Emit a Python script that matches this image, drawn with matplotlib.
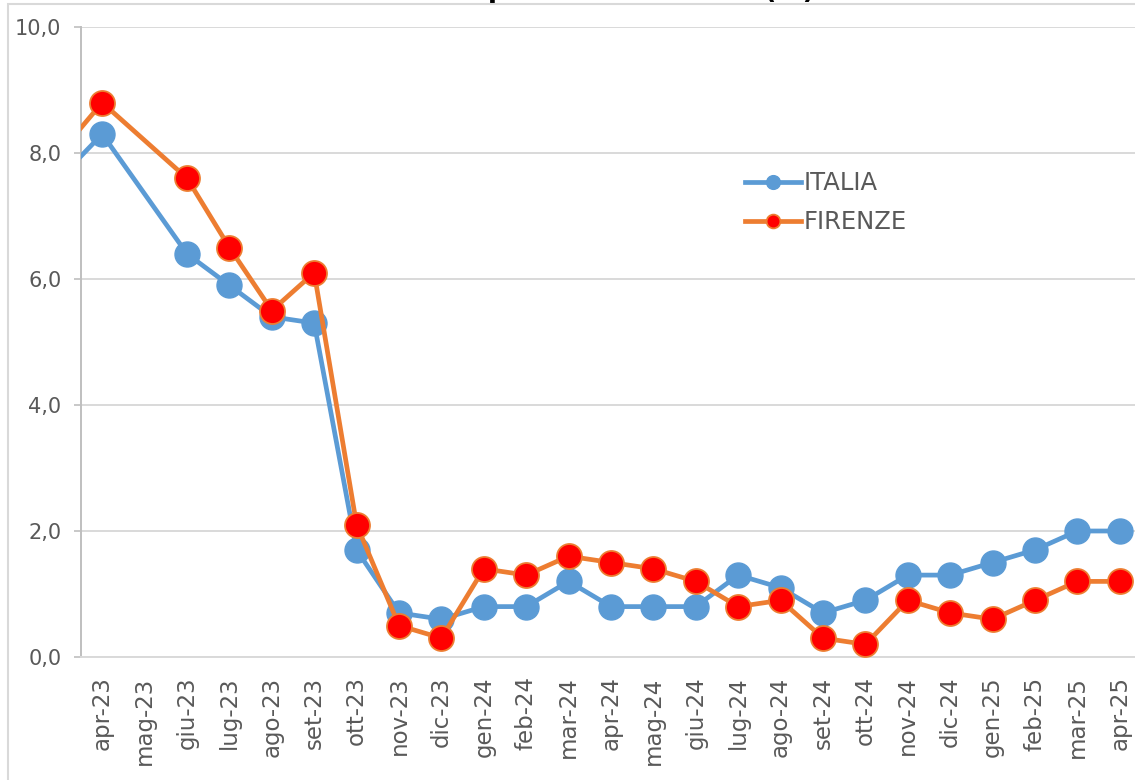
import matplotlib.pyplot as plt
import numpy as np
from matplotlib.patches import Rectangle
from matplotlib.ticker import FuncFormatter

# monthly values (%), mar-23 sits just outside the visible range, mag-23 is missing
months = ['mar-23', 'apr-23', 'mag-23', 'giu-23', 'lug-23', 'ago-23', 'set-23', 'ott-23',
          'nov-23', 'dic-23', 'gen-24', 'feb-24', 'mar-24', 'apr-24', 'mag-24', 'giu-24',
          'lug-24', 'ago-24', 'set-24', 'ott-24', 'nov-24', 'dic-24', 'gen-25', 'feb-25',
          'mar-25', 'apr-25']
italia = [7.6, 8.3, None, 6.4, 5.9, 5.4, 5.3, 1.7, 0.7, 0.6, 0.8, 0.8, 1.2, 0.8, 0.8, 0.8,
          1.3, 1.1, 0.7, 0.9, 1.3, 1.3, 1.5, 1.7, 2.0, 2.0]
firenze = [8.0, 8.8, None, 7.6, 6.5, 5.5, 6.1, 2.1, 0.5, 0.3, 1.4, 1.3, 1.6, 1.5, 1.4, 1.2,
           0.8, 0.9, 0.3, 0.2, 0.9, 0.7, 0.6, 0.9, 1.2, 1.2]
title = 'Inflazione: prezzi al consumo (%)'

W, H = 1135, 780
fig = plt.figure(figsize=(W / 100, H / 100), dpi=100)
ax = fig.add_axes([81 / W, 1 - 657 / H, (1141 - 81) / W, (657 - 27) / H])

x = np.arange(len(months))


def series(vals):
    v = np.array([np.nan if a is None else a for a in vals], dtype=float)
    ok = ~np.isnan(v)
    return x[ok], v[ok]


xi, yi = series(italia)
xf, yf = series(firenze)
ax.plot(xi, yi, color='#5B9BD5', lw=3.4, marker='o', ms=18,
        mfc='#5B9BD5', mec='#5B9BD5', label='ITALIA', zorder=3)
ax.plot(xf, yf, color='#ED7D31', lw=3.4, marker='o', ms=18,
        mfc='#FF0000', mec='#ED7D31', mew=1.3, label='FIRENZE', zorder=4)

ax.set_xlim(0.5, len(months) - 0.5)
ax.set_ylim(0, 10)
ax.set_yticks(np.arange(0, 10.1, 2))
ax.yaxis.set_major_formatter(FuncFormatter(lambda v, p: f'{v:.1f}'.replace('.', ',')))
ax.set_xticks(x[1:])
ax.set_xticklabels(months[1:], rotation=90)

ax.grid(axis='y', color='#D9D9D9', lw=1.4)
ax.set_axisbelow(True)
for s in ['top', 'right']:
    ax.spines[s].set_visible(False)
ax.spines['left'].set_color('#BFBFBF')
ax.spines['bottom'].set_color('#D9D9D9')
ax.spines['left'].set_linewidth(1.4)
ax.spines['bottom'].set_linewidth(1.4)
ax.tick_params(axis='y', colors='#BFBFBF', labelcolor='#595959', labelsize=15,
               length=5, width=1.2, pad=9)
ax.tick_params(axis='x', labelcolor='#595959', labelsize=16.5, length=0, pad=14)

leg = ax.legend(loc='upper left', bbox_to_anchor=(0.615, 0.79), frameon=False,
                fontsize=17.5, handlelength=2.3, handletextpad=0.1, markerscale=0.55,
                labelspacing=0.6, borderpad=0)
for t in leg.get_texts():
    t.set_color('#595959')

# title sits above the image edge, only its descenders show (as in the source)
fig.text(815 / W, 1 + 2 / H, title, ha='right', va='baseline', fontsize=19,
         fontweight='bold', color='black')

# chart area border
fig.patches.append(Rectangle((8 / W, -0.1), 1.2, 1.1 - 4 / H, transform=fig.transFigure,
                             fill=False, ec='#D9D9D9', lw=1.5, zorder=10))

fig.savefig('out.png', dpi=100)
